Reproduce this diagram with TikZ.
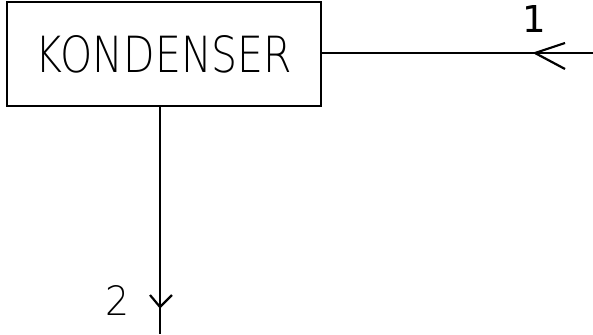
\documentclass[tikz,border=0pt]{standalone}
\usepackage{fontspec}
\setmainfont{DejaVu Sans}
\usepackage{graphicx}
\newfontfamily\thinfont{DejaVu Sans ExtraLight}
\begin{document}
\begin{tikzpicture}[x=1pt,y=-1pt,
  line/.style={line width=2.2pt},
  box/.style={draw,line width=2.2pt,minimum width=314pt,minimum height=104pt,inner sep=0pt},
  lbl/.style={inner sep=0pt}]
\useasboundingbox (0,0) rectangle (593,334);
\node[box] (k) at (164,54) {\resizebox{256pt}{37pt}{\thinfont KONDENSER}};
\coordinate (in) at (593,53);
\coordinate (out) at (160,334);
\coordinate (t1) at (535,53);
\coordinate (t2) at (160,307);
\draw[line] (in) -- (k.east |- in);
\draw[line] (k.south -| out) -- (out);
\draw[line] ([xshift=30pt,yshift=10pt]t1) -- (t1) -- ([xshift=30pt,yshift=-16pt]t1);
\draw[line] ([xshift=-10pt,yshift=12pt]t2) -- (t2) -- ([xshift=12pt,yshift=12pt]t2);
\node[lbl] (l1) at (534,19) {\resizebox{!}{27pt}{1}};
\node[lbl] (l2) at (117,300) {\resizebox{24pt}{30pt}{\thinfont 2}};
\end{tikzpicture}
\end{document}
